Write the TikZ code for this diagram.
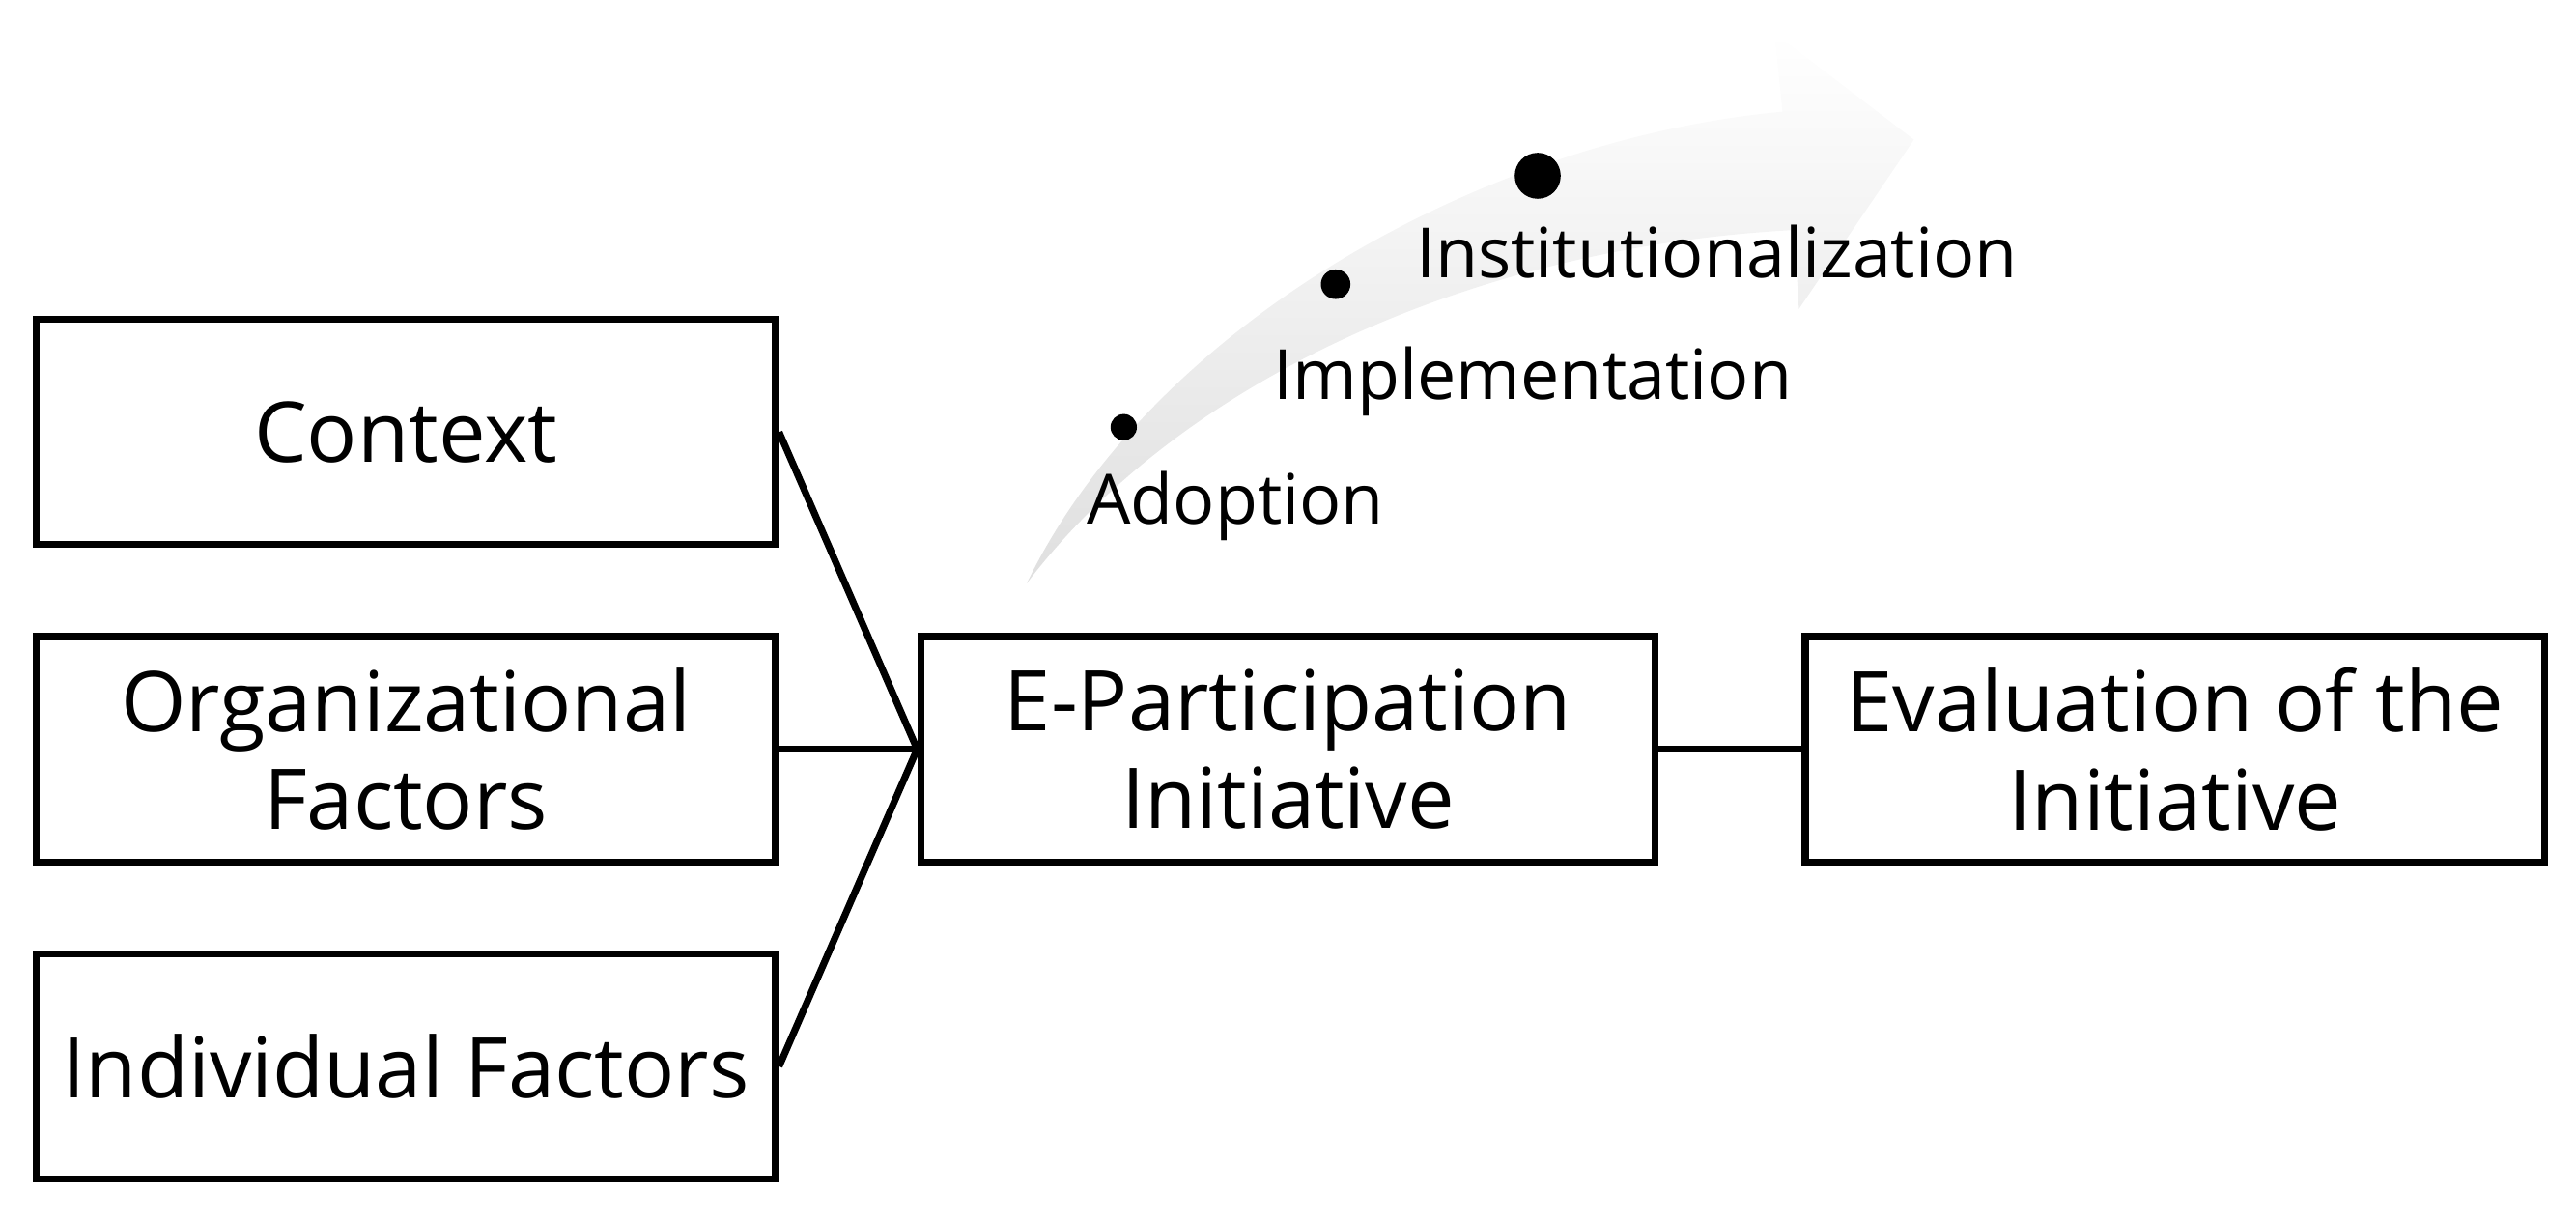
\documentclass[tikz,border=0pt]{standalone}
\usepackage{fontspec}
\setmainfont{Open Sans}
\begin{document}
\begin{tikzpicture}[x=0.01cm,y=-0.01cm,
  box/.style={draw,line width=1.2pt,minimum width=4.5cm,minimum height=1.37cm,align=center,font=\fontsize{14.5}{17}\selectfont,inner sep=0pt},
  lab/.style={font=\fontsize{12}{14}\selectfont,inner sep=0pt},
  ln/.style={line width=1.2pt}]
\useasboundingbox (0,0) rectangle (1568,743);
\shade[left color=white, right color=gray!25, shading angle=0]
  (625,355) .. controls (700,200) and (900,85) .. (1085,68) -- (1080,20) -- (1165,85) -- (1095,188) -- (1092,140) .. controls (900,150) and (720,230) .. (625,355) -- cycle;
\node[box] (ctx) at (247,263) {Context};
\node[box] (org) at (247,456) {Organizational\\Factors};
\node[box] (ind) at (247,649) {Individual Factors};
\node[box,minimum width=4.47cm] (ep) at (784,456) {E-Participation\\Initiative};
\node[box] (ev) at (1324,456) {Evaluation of the\\Initiative};
\coordinate (j) at (ep.west);
\draw[ln] (ctx.east) -- (j);
\draw[ln] (org.east) -- (j);
\draw[ln] (ind.east) -- (j);
\draw[ln] (ep.east) -- (ev.west);
\fill (684,260) circle (8);
\fill (813,173) circle (9);
\fill (936,107) circle (14);
\node[lab] (a) at (752,308) {Adoption};
\node[lab] (b) at (933,232) {Implementation};
\node[lab] (c) at (1045,153) {Institutionalization};
\end{tikzpicture}
\end{document}
